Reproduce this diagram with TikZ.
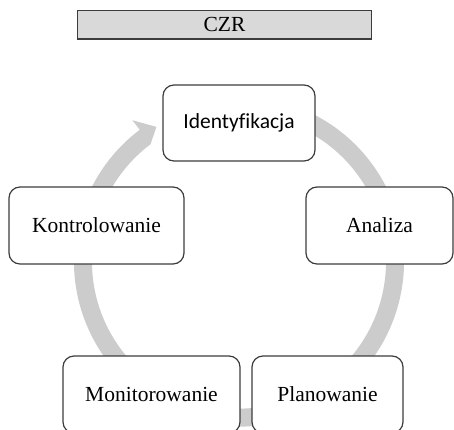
\documentclass[tikz,border=0pt]{standalone}
\usepackage{fontspec}
\setmainfont{Liberation Serif}
\newfontfamily\labelsans[Ligatures=CommonOff]{Carlito}
\definecolor{ringgray}{HTML}{CCCCCC}
\definecolor{edgegray}{HTML}{3C3C3C}
\definecolor{titlefill}{HTML}{D9D9D9}
\tikzset{
  stage/.style={draw=edgegray, line width=1.2pt, fill=white, rounded corners=11pt,
    inner sep=0pt, font=\fontsize{21.5}{25}\selectfont},
  titlebar/.style={draw=edgegray, line width=1.3pt, fill=titlefill, inner sep=0pt,
    minimum width=294pt, minimum height=28.5pt, font=\fontsize{21.5}{25}\selectfont},
}
\begin{document}
\begin{tikzpicture}[x=1pt, y=1pt]
  \useasboundingbox (0,0) rectangle (454,429);
  \clip (0,0) rectangle (454,429);

  % heading bar
  \node[titlebar] (czr) at (224.5,404.2) {CZR};

  % circular arrow running clockwise behind the stages
  \begin{scope}[shift={(239pt,167.4pt)}]
    \fill[ringgray] (75:165pt) arc[start angle=75, end angle=-233, radius=165pt]
      -- (127:177pt) -- (121.5:158pt) -- (127:147pt)
      arc[start angle=-233, end angle=75, radius=147pt] -- cycle;
  \end{scope}

  % stages of the cycle
  \node[stage, minimum width=152pt, minimum height=76pt] (ident) at (239,306)
    {\labelsans Identyfikacja};
  \node[stage, minimum width=147pt, minimum height=77pt] (anal) at (379.5,203.5) {Analiza};
  \node[stage, minimum width=151pt, minimum height=77pt] (plan) at (327.5,34.5) {Planowanie};
  \node[stage, minimum width=177pt, minimum height=77pt] (monit) at (151.5,34.5) {Monitorowanie};
  \node[stage, minimum width=175pt, minimum height=77pt] (kontr) at (96.5,203.5) {Kontrolowanie};
\end{tikzpicture}
\end{document}
